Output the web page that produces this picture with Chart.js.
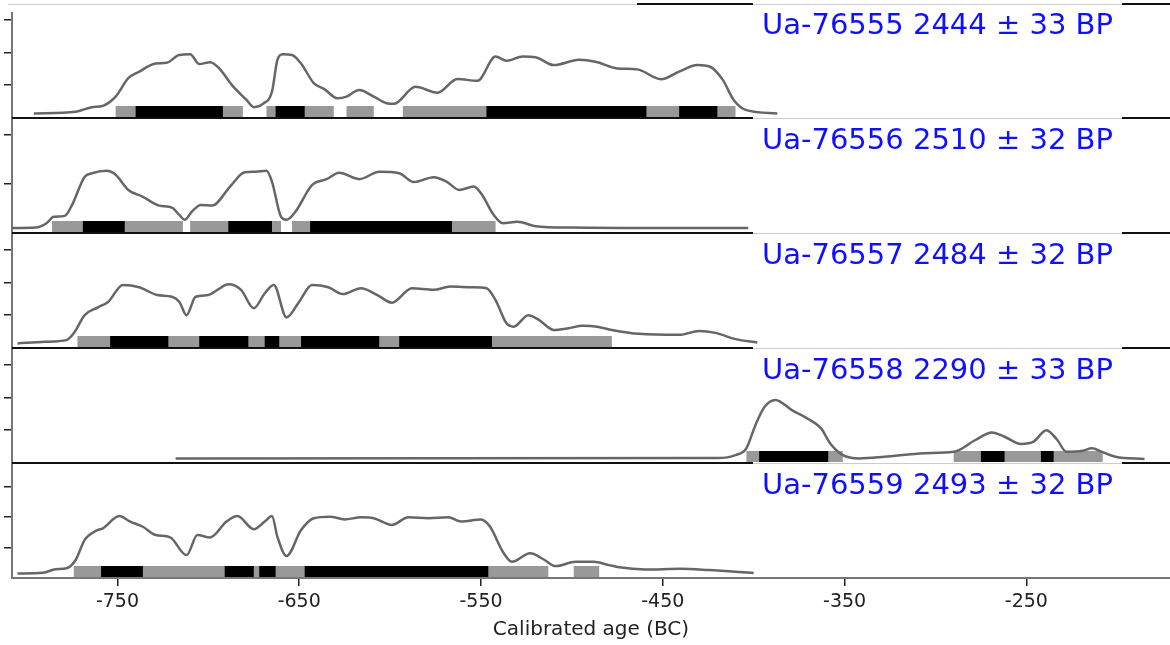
<!DOCTYPE html>
<html>
<head>
<meta charset="utf-8">
<script src="https://cdn.jsdelivr.net/npm/chart.js@4/dist/chart.umd.min.js"></script>
<style>
  html, body { margin: 0; padding: 0; background: #fff; }
  #wrap { width: 1170px; height: 645px; }
</style>
</head>
<body>
<div id="wrap"><canvas id="chart" width="1170" height="645"></canvas></div>
<script>
// ---------- Data ----------

const panelLabels = [
  'Ua-76555 2444 ± 33 BP',
  'Ua-76556 2510 ± 32 BP',
  'Ua-76557 2484 ± 32 BP',
  'Ua-76558 2290 ± 33 BP',
  'Ua-76559 2493 ± 32 BP',
];

const xTicks = [-750, -650, -550, -450, -350, -250];
const xMin = -808;
const xMax = -171;

// y axis per panel (unlabelled tick marks)
const yTicks = [[1, 2, 3], [1, 2], [1, 2, 3], [1, 2, 3], [1, 2, 3]];
const yMax = [3.5, 2.35, 3.5, 3.5, 3.77];

// probability curves: calendar age (BC, negative) and relative density
const ages1 = [-796, -773, -764, -758, -751, -744, -738, -729, -723, -716, -710, -705, -699, -694, -687, -679, -675, -670, -665, -662, -659, -654, -649, -642, -636, -629, -624, -617, -609, -602, -598, -586, -574, -563, -552, -542, -536, -527, -520, -510, -496, -487, -475, -464, -451, -441, -431, -424, -417, -411, -404, -387];
const dens1 = [0.14, 0.19, 0.33, 0.37, 0.65, 1.21, 1.41, 1.66, 1.68, 1.92, 1.94, 1.64, 1.70, 1.51, 1.00, 0.55, 0.33, 0.43, 0.80, 1.77, 1.94, 1.92, 1.66, 1.06, 0.87, 0.60, 0.65, 0.85, 0.65, 0.45, 0.43, 0.95, 0.77, 1.19, 1.13, 1.87, 1.74, 1.87, 1.85, 1.61, 1.77, 1.71, 1.51, 1.48, 1.18, 1.41, 1.61, 1.56, 1.16, 0.55, 0.24, 0.14];

const ages2 = [-808, -795, -789, -785, -779, -775, -768, -764, -756, -751, -744, -736, -727, -720, -716, -713, -709, -704, -698, -688, -680, -674, -668, -665, -660, -657, -652, -643, -635, -628, -617, -606, -595, -587, -576, -569, -562, -554, -550, -543, -538, -530, -520, -500, -450, -403];
const dens2 = [0.10, 0.11, 0.20, 0.33, 0.35, 0.57, 1.15, 1.22, 1.27, 1.19, 0.88, 0.74, 0.56, 0.52, 0.37, 0.27, 0.44, 0.57, 0.56, 0.95, 1.24, 1.25, 1.27, 1.05, 0.33, 0.27, 0.44, 0.98, 1.10, 1.23, 1.10, 1.25, 1.22, 1.04, 1.14, 1.05, 0.88, 0.95, 0.81, 0.37, 0.20, 0.23, 0.14, 0.11, 0.10, 0.10];

const ages3 = [-805, -790, -778, -774, -768, -761, -755, -747, -738, -728, -720, -716, -712, -707, -700, -695, -689, -682, -675, -669, -664, -657, -650, -643, -634, -626, -616, -607, -599, -588, -576, -567, -555, -547, -542, -536, -532, -524, -518, -510, -502, -494, -486, -478, -463, -441, -430, -421, -410, -398];
const dens3 = [0.14, 0.19, 0.24, 0.45, 1.00, 1.23, 1.41, 1.92, 1.85, 1.61, 1.56, 1.41, 1.00, 1.56, 1.61, 1.77, 1.94, 1.77, 1.21, 1.66, 1.92, 0.93, 1.41, 1.92, 1.85, 1.64, 1.82, 1.61, 1.38, 1.82, 1.77, 1.87, 1.85, 1.82, 1.46, 0.75, 0.65, 1.00, 0.85, 0.55, 0.60, 0.68, 0.65, 0.55, 0.43, 0.40, 0.52, 0.46, 0.27, 0.17];

const ages4 = [-718, -420, -410, -404, -399, -394, -388, -379, -370, -363, -358, -351, -342, -328, -306, -290, -278, -269, -262, -253, -246, -239, -233, -228, -219, -214, -208, -201, -185];
const dens4 = [0.14, 0.15, 0.24, 0.45, 1.16, 1.71, 1.92, 1.61, 1.34, 1.06, 0.60, 0.24, 0.14, 0.19, 0.30, 0.34, 0.70, 0.93, 0.80, 0.58, 0.65, 1.00, 0.70, 0.34, 0.37, 0.45, 0.33, 0.19, 0.12];

const ages5 = [-805, -791, -784, -778, -773, -768, -761, -758, -749, -743, -736, -729, -721, -712, -706, -699, -690, -684, -675, -669, -665, -662, -657, -649, -642, -633, -625, -616, -609, -599, -590, -579, -568, -561, -550, -545, -538, -533, -523, -515, -509, -498, -488, -480, -474, -460, -440, -425, -400];
const dens5 = [0.15, 0.17, 0.29, 0.32, 0.59, 1.25, 1.57, 1.63, 2.03, 1.85, 1.68, 1.41, 1.33, 0.75, 1.41, 1.33, 1.85, 2.03, 1.60, 1.85, 2.03, 1.35, 0.72, 1.57, 1.96, 2.01, 1.92, 1.99, 1.96, 1.74, 1.99, 1.96, 1.99, 1.85, 1.92, 1.68, 0.86, 0.53, 0.81, 0.59, 0.39, 0.53, 0.53, 0.43, 0.35, 0.28, 0.30, 0.26, 0.16];

// highest posterior density ranges [from, to]
const ranges95 = [
  [[-751, -681], [-668, -631], [-624, -609], [-593, -410]],
  [[-786, -714], [-710, -660], [-654, -542]],
  [[-772, -478]],
  [[-404, -351], [-290, -208]],
  [[-774, -513], [-499, -485]],
];
const ranges68 = [
  [[-740, -692], [-663, -647], [-547, -459], [-441, -420]],
  [[-769, -746], [-689, -665], [-644, -566]],
  [[-754, -722], [-705, -678], [-669, -661], [-649, -606], [-595, -544]],
  [[-397, -359], [-275, -262], [-242, -235]],
  [[-759, -736], [-691, -675], [-672, -663], [-647, -546]],
];

const curves = [[ages1, dens1], [ages2, dens2], [ages3, dens3], [ages4, dens4], [ages5, dens5]];
const panelIds = ['p1', 'p2', 'p3', 'p4', 'p5'];

// ---------- Chart ----------

const FONT = 'DejaVu Sans';

function panelAxis(i) {
  return {
    type: 'linear',
    position: 'left',
    stack: 'panels',
    stackWeight: 1,
    weight: 5 - i,
    min: 0,
    max: yMax[i],
    afterBuildTicks: s => { s.ticks = yTicks[i].map(v => ({ value: v })); },
    afterFit: s => { s.width = 12; },
    ticks: { display: false },
    grid: { drawOnChartArea: false, drawTicks: true, tickLength: 8, color: '#222', lineWidth: 1.5 },
    border: { display: true, color: '#777', width: 2 },
  };
}

const scales = {
  x: {
    type: 'linear',
    position: 'bottom',
    min: xMin,
    max: xMax,
    afterBuildTicks: s => { s.ticks = xTicks.map(v => ({ value: v })); },
    afterFit: s => { s.height = 67; },
    ticks: { color: '#222', font: { family: FONT, size: 19 }, padding: 5, maxRotation: 0, callback: v => String(v) },
    grid: { drawOnChartArea: false, tickLength: 8, color: '#222', lineWidth: 1.5 },
    border: { color: '#777', width: 2 },
    title: {
      display: true,
      text: 'Calibrated age (BC)',
      color: '#222',
      font: { family: FONT, size: 20 },
      padding: { top: 0, bottom: 3 },
    },
  },
};
panelIds.forEach((id, i) => { scales[id] = panelAxis(i); });

const datasets = curves.map(([ages, dens], i) => ({
  label: panelLabels[i],
  data: ages.map((a, k) => ({ x: a, y: dens[k] })),
  xAxisID: 'x',
  yAxisID: panelIds[i],
  borderColor: '#666',
  borderWidth: 2.5,
  pointRadius: 0,
  fill: false,
  cubicInterpolationMode: 'monotone',
}));

const panelPlugin = {
  id: 'panels',
  beforeDatasetsDraw(chart) {
    const ctx = chart.ctx;
    const xs = chart.scales.x;
    ctx.save();
    panelIds.forEach((id, i) => {
      const base = chart.scales[id].bottom;
      const drawRanges = (list, color) => {
        ctx.fillStyle = color;
        list.forEach(([a, b]) => {
          const x0 = xs.getPixelForValue(a);
          const x1 = xs.getPixelForValue(b);
          ctx.fillRect(x0, base - 12, x1 - x0, 11);
        });
      };
      drawRanges(ranges95[i], '#999');
      drawRanges(ranges68[i], '#000');
    });
    ctx.restore();
  },
  afterDraw(chart) {
    const ctx = chart.ctx;
    const area = chart.chartArea;
    ctx.save();

    // panel separators and top frame line
    ctx.strokeStyle = '#111';
    ctx.lineWidth = 2;
    const lines = [area.top + 1].concat(panelIds.slice(0, 4).map(id => chart.scales[id].bottom));
    lines.forEach(y => {
      ctx.beginPath();
      ctx.moveTo(area.left, y);
      ctx.lineTo(area.right, y);
      ctx.stroke();
    });

    // cut-off caption box above the plot
    ctx.fillStyle = '#fff';
    ctx.fillRect(8, area.top - 1, 629, 10);
    ctx.strokeStyle = '#ccc';
    ctx.lineWidth = 1;
    ctx.beginPath();
    ctx.moveTo(8, area.top + 1.5);
    ctx.lineTo(637, area.top + 1.5);
    ctx.stroke();

    // sample labels in white boxes
    ctx.font = `29px "${FONT}"`;
    ctx.textBaseline = 'alphabetic';
    ctx.textAlign = 'left';
    panelIds.forEach((id, i) => {
      const top = i === 0 ? area.top + 1 : chart.scales[id].top;
      const tx = 762;
      const w = ctx.measureText(panelLabels[i]).width;
      ctx.fillStyle = '#fff';
      ctx.fillRect(tx - 9, top - 1, w + 18, 40);
      ctx.strokeStyle = '#ccc';
      ctx.lineWidth = 1;
      ctx.beginPath();
      ctx.moveTo(tx - 9, top + 0.5);
      ctx.lineTo(tx + w + 9, top + 0.5);
      ctx.stroke();
      ctx.fillStyle = 'rgb(16, 16, 255)';
      ctx.fillText(panelLabels[i], tx, chart.scales[id].top + 31);
    });
    ctx.restore();
  },
};

new Chart(document.getElementById('chart'), {
  type: 'line',
  data: { datasets },
  options: {
    responsive: false,
    animation: false,
    layout: { padding: { top: 3, right: 0, bottom: 0, left: 0 } },
    plugins: { legend: { display: false }, tooltip: { enabled: false } },
    scales,
  },
  plugins: [panelPlugin],
});
</script>
</body>
</html>
